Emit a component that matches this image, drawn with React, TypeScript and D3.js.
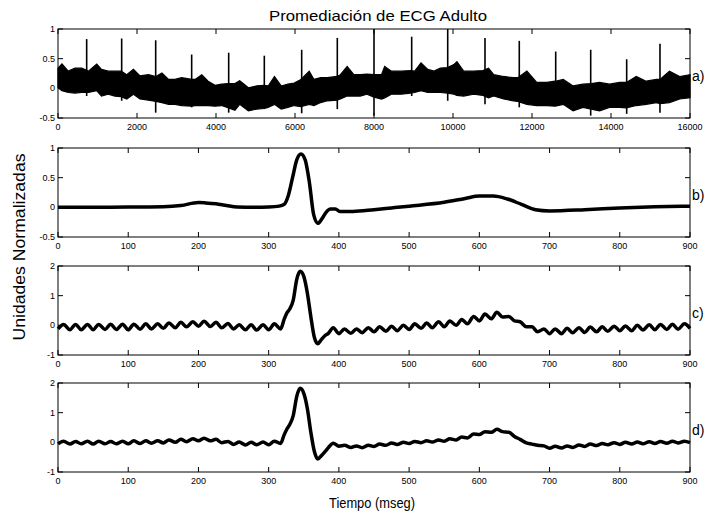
import React from 'react';
import * as d3 from 'd3';

// ---------- Panel a) raw ECG: envelope of the noisy band + R-wave spikes ----------
const aSamples = [
  0, 100, 260, 430, 600, 770, 980, 1100, 1270, 1440,
  1600, 1740, 1910, 2075, 2290, 2480, 2630, 2800, 2960, 3130,
  3390, 3470, 3640, 3800, 3975, 4140, 4320, 4480, 4600, 4820,
  5030, 5220, 5320, 5480, 5650, 5820, 5980, 6150, 6360, 6480,
  6650, 6820, 7060, 7150, 7320, 7490, 7650, 7820, 8000, 8190,
  8270, 8440, 8690, 8930, 9030, 9190, 9360, 9520, 9680, 9860,
  10020, 10100, 10270, 10520, 10760, 10900, 11030, 11280, 11530, 11640,
  11870, 12120, 12370, 12590, 12790, 13040, 13290, 13500, 13710, 13960,
  14220, 14390, 14640, 14890, 15150, 15240, 15480, 15740, 16000,
];
const aUpper = [
  0.34, 0.41, 0.29, 0.34, 0.34, 0.29, 0.41, 0.32, 0.29, 0.29,
  0.29, 0.23, 0.32, 0.21, 0.23, 0.2, 0.26, 0.15, 0.15, 0.18,
  0.15, 0.15, 0.23, 0.12, 0.05, 0.07, 0.08, 0.08, 0.13, 0.01,
  0.04, 0.05, 0.04, 0.2, 0.04, 0.07, 0.09, 0.15, 0.29, 0.15,
  0.18, 0.18, 0.2, 0.23, 0.37, 0.23, 0.23, 0.24, 0.23, 0.23,
  0.37, 0.29, 0.29, 0.3, 0.29, 0.43, 0.32, 0.29, 0.34, 0.35,
  0.4, 0.45, 0.29, 0.29, 0.3, 0.34, 0.23, 0.2, 0.18, 0.18,
  0.29, 0.1, 0.1, 0.12, 0.15, 0.04, 0.07, 0.08, 0.1, 0.07,
  0.1, 0.1, 0.2, 0.12, 0.15, 0.15, 0.29, 0.2, 0.23,
];
const aLower = [
  0.01, -0.04, -0.07, -0.08, -0.07, -0.07, -0.04, -0.13, -0.1, -0.13,
  -0.14, -0.18, -0.1, -0.18, -0.2, -0.22, -0.24, -0.27, -0.27, -0.29,
  -0.3, -0.29, -0.29, -0.29, -0.3, -0.29, -0.33, -0.37, -0.27, -0.38,
  -0.35, -0.34, -0.32, -0.27, -0.35, -0.32, -0.29, -0.31, -0.27, -0.29,
  -0.24, -0.21, -0.2, -0.18, -0.13, -0.13, -0.13, -0.1, -0.15, -0.18,
  -0.16, -0.1, -0.1, -0.08, -0.07, -0.04, -0.07, -0.07, -0.07, -0.08,
  -0.1, -0.12, -0.13, -0.1, -0.12, -0.16, -0.13, -0.18, -0.21, -0.22,
  -0.27, -0.29, -0.29, -0.3, -0.27, -0.38, -0.32, -0.35, -0.38, -0.32,
  -0.32, -0.33, -0.29, -0.27, -0.24, -0.26, -0.24, -0.18, -0.16,
];
const spikeSamples = [726, 1612, 2473, 3384, 4321, 5223, 6169, 7071, 8000, 8954, 9866, 10810, 11678, 12600, 13486, 14397, 15240];
const spikeTop = [0.83, 0.84, 0.81, 0.57, 0.6, 0.55, 0.65, 0.85, 1.0, 0.87, 1.0, 0.85, 0.8, 0.62, 0.65, 0.49, 0.75];
const spikeBottom = [-0.13, -0.21, -0.41, -0.32, -0.41, -0.35, -0.42, -0.35, -0.46, -0.13, -0.21, -0.27, -0.32, -0.29, -0.46, -0.43, -0.41];

// ---------- Panel b) averaged beat ----------
const bTime = [
  0, 50, 100, 150, 175, 200, 210, 225, 240, 255,
  280, 300, 315, 322, 328, 334, 340, 346, 352, 358,
  364, 370, 376, 382, 388, 395, 402, 420, 450, 475,
  500, 550, 580, 600, 620, 640, 660, 680, 700, 750,
  800, 850, 900,
];
const bValue = [
  0, 0, 0.005, 0.01, 0.03, 0.08, 0.075, 0.06, 0.03, 0.005,
  0, 0.005, 0.02, 0.05, 0.2, 0.5, 0.8, 0.9, 0.8, 0.42,
  -0.12, -0.27, -0.19, -0.08, -0.03, -0.03, -0.07, -0.07, -0.04, -0.01,
  0.02, 0.085, 0.15, 0.19, 0.19, 0.14, 0.05, -0.04, -0.06, -0.04,
  -0.01, 0.01, 0.02,
];

// ---------- Panels c) and d) (ripple extrema + QRS) ----------
const cdTime = [
  0, 8, 17, 25, 33, 42, 50, 58, 67, 75, 83, 92, 100,
  108, 117, 125, 133, 142, 150, 158, 167, 175, 183, 192, 200,
  208, 217, 225, 233, 242, 250, 258, 267, 275, 283, 292, 300,
  308, 317, 322, 326, 330, 335, 340, 345, 350, 355, 360, 365, 370, 375, 380, 385,
  392, 400, 408, 417, 425, 433, 442, 450, 458, 467, 475, 483, 492, 500,
  508, 517, 525, 533, 542, 550, 558, 567, 575, 583, 592, 600,
  608, 617, 625, 633, 642, 650, 658, 667, 675, 683, 692, 700,
  708, 717, 725, 733, 742, 750, 758, 767, 775, 783, 792, 800,
  808, 817, 825, 833, 842, 850, 858, 867, 875, 883, 892, 900,
];
const cValue = [
  -0.12, 0.03, -0.15, 0.03, -0.15, 0.03, -0.15, 0.03, -0.14, 0.04, -0.14, 0.04, -0.15,
  0.04, -0.13, 0.05, -0.12, 0.05, -0.1, 0.08, -0.08, 0.1, -0.05, 0.12, -0.03,
  0.14, -0.04, 0.1, -0.08, 0.06, -0.12, 0.02, -0.15, 0.02, -0.16, 0.02, -0.15,
  0.05, -0.12, 0.2, 0.42, 0.55, 0.85, 1.55, 1.82, 1.65, 1.1, 0.3, -0.4, -0.62, -0.48, -0.35, -0.27,
  -0.08, -0.28, -0.12, -0.27, -0.12, -0.25, -0.08, -0.22, -0.05, -0.2, -0.03, -0.18, 0.0, -0.14,
  0.05, -0.1, 0.08, -0.08, 0.12, -0.05, 0.15, 0.0, 0.2, 0.05, 0.3, 0.15,
  0.38, 0.22, 0.44, 0.28, 0.3, 0.15, 0.12, -0.05, -0.05, -0.22, -0.12, -0.28,
  -0.12, -0.28, -0.1, -0.25, -0.08, -0.24, -0.06, -0.22, -0.05, -0.2, -0.03, -0.18,
  -0.02, -0.18, 0.0, -0.16, 0.02, -0.15, 0.03, -0.14, 0.04, -0.13, 0.05, -0.1,
];
const dValue = [
  -0.05, 0.04, -0.06, 0.03, -0.05, 0.04, -0.06, 0.04, -0.05, 0.03, -0.05, 0.04, -0.05,
  0.05, -0.04, 0.05, -0.03, 0.05, -0.02, 0.08, 0.0, 0.1, 0.02, 0.12, 0.05,
  0.14, 0.05, 0.1, -0.01, 0.03, -0.07, 0.01, -0.09, 0.0, -0.08, 0.01, -0.08,
  0.04, -0.04, 0.25, 0.45, 0.6, 0.9, 1.55, 1.82, 1.65, 1.15, 0.35, -0.3, -0.56, -0.45, -0.32, -0.18,
  -0.03, -0.13, -0.1, -0.17, -0.12, -0.18, -0.1, -0.14, -0.06, -0.1, -0.02, -0.07, 0.0, -0.04,
  0.03, -0.01, 0.05, 0.01, 0.08, 0.04, 0.12, 0.08, 0.18, 0.15, 0.28, 0.26,
  0.36, 0.34, 0.44, 0.36, 0.34, 0.2, 0.1, -0.02, -0.06, -0.1, -0.12, -0.2,
  -0.13, -0.19, -0.12, -0.17, -0.09, -0.14, -0.06, -0.11, -0.04, -0.08, -0.01, -0.07,
  0.0, -0.06, 0.01, -0.05, 0.02, -0.04, 0.03, -0.03, 0.04, -0.02, 0.04, -0.01,
];

// ---------- ticks & labels ----------
const sampleTicks = [0, 2000, 4000, 6000, 8000, 10000, 12000, 14000, 16000];
const msTicks = [0, 100, 200, 300, 400, 500, 600, 700, 800, 900];
const abYTicks = [-0.5, 0, 0.5, 1];
const cdYTicks = [-1, 0, 1, 2];
const panelLabels = ['a)', 'b)', 'c)', 'd)'];
const titleText = 'Promediación de ECG Adulto';
const xLabelText = 'Tiempo (mseg)';
const yLabelText = 'Unidades Normalizadas';

const W = 707;
const H = 514;
const LEFT = 58;
const RIGHT = 690;
const PANEL_H = 89;
const PANEL_TOPS = [29, 148, 266, 383];
const FONT = "'Liberation Sans', Arial, Helvetica, sans-serif";
const TICK = 5;

type PanelProps = {
  top: number;
  x: d3.ScaleLinear<number, number>;
  y: d3.ScaleLinear<number, number>;
  xTicks: number[];
  yTicks: number[];
  label: string;
  children?: React.ReactNode;
};

function Panel({ top, x, y, xTicks, yTicks, label, children }: PanelProps) {
  const bottom = top + PANEL_H;
  return (
    <g>
      {children}
      <rect x={LEFT} y={top} width={RIGHT - LEFT} height={PANEL_H} fill="none" stroke="#000" strokeWidth={1} />
      {xTicks.map((t) => (
        <g key={'x' + t}>
          <line x1={x(t)} x2={x(t)} y1={bottom} y2={bottom - TICK} stroke="#000" strokeWidth={1} />
          <line x1={x(t)} x2={x(t)} y1={top} y2={top + TICK} stroke="#000" strokeWidth={1} />
          <text x={x(t)} y={bottom + 12} fontSize={9} textAnchor="middle" fontFamily={FONT} fill="#000">
            {String(t)}
          </text>
        </g>
      ))}
      {yTicks.map((t) => (
        <g key={'y' + t}>
          <line x1={LEFT} x2={LEFT + TICK} y1={y(t)} y2={y(t)} stroke="#000" strokeWidth={1} />
          <line x1={RIGHT} x2={RIGHT - TICK} y1={y(t)} y2={y(t)} stroke="#000" strokeWidth={1} />
          <text x={LEFT - 3} y={y(t)} dy="0.35em" fontSize={9} textAnchor="end" fontFamily={FONT} fill="#000">
            {String(t)}
          </text>
        </g>
      ))}
      <text x={RIGHT + 2} y={top + PANEL_H / 2 + 7} fontSize={14} fontFamily={FONT} fill="#000">
        {label}
      </text>
    </g>
  );
}

export default function App() {
  const xa = d3.scaleLinear().domain([0, 16000]).range([LEFT, RIGHT]);
  const xms = d3.scaleLinear().domain([0, 900]).range([LEFT, RIGHT]);
  const ys = [
    d3.scaleLinear().domain([-0.5, 1]).range([PANEL_TOPS[0] + PANEL_H, PANEL_TOPS[0]]),
    d3.scaleLinear().domain([-0.5, 1]).range([PANEL_TOPS[1] + PANEL_H, PANEL_TOPS[1]]),
    d3.scaleLinear().domain([-1, 2]).range([PANEL_TOPS[2] + PANEL_H, PANEL_TOPS[2]]),
    d3.scaleLinear().domain([-1, 2]).range([PANEL_TOPS[3] + PANEL_H, PANEL_TOPS[3]]),
  ];

  const bandIdx = d3.range(aSamples.length);
  const band = d3
    .area<number>()
    .x((i) => xa(aSamples[i]))
    .y0((i) => ys[0](aLower[i]))
    .y1((i) => ys[0](aUpper[i]))
    .curve(d3.curveLinear)(bandIdx) || '';

  const lineB = d3
    .line<number>()
    .x((i) => xms(bTime[i]))
    .y((i) => ys[1](bValue[i]))
    .curve(d3.curveMonotoneX)(d3.range(bTime.length)) || '';

  const lineC = d3
    .line<number>()
    .x((i) => xms(cdTime[i]))
    .y((i) => ys[2](cValue[i]))
    .curve(d3.curveMonotoneX)(d3.range(cdTime.length)) || '';

  const lineD = d3
    .line<number>()
    .x((i) => xms(cdTime[i]))
    .y((i) => ys[3](dValue[i]))
    .curve(d3.curveMonotoneX)(d3.range(cdTime.length)) || '';

  const midX = (LEFT + RIGHT) / 2;

  return (
    <svg
      width={W}
      height={H}
      viewBox={`0 0 ${W} ${H}`}
      style={{ position: 'absolute', left: 0, top: 0, background: '#fff' }}
    >
      <rect x={0} y={0} width={W} height={H} fill="#fff" />
      <text x={midX + 4} y={21} fontSize={15} textAnchor="middle" fontFamily={FONT} fill="#000"
        textLength={218} lengthAdjust="spacingAndGlyphs">
        {titleText}
      </text>

      <Panel top={PANEL_TOPS[0]} x={xa} y={ys[0]} xTicks={sampleTicks} yTicks={abYTicks} label={panelLabels[0]}>
        <path d={band} fill="#000" stroke="#000" strokeWidth={1.2} strokeLinejoin="miter" />
        {spikeSamples.map((s, i) => (
          <line key={s} x1={xa(s)} x2={xa(s)} y1={ys[0](spikeTop[i])} y2={ys[0](spikeBottom[i])}
            stroke="#000" strokeWidth={1.6} />
        ))}
      </Panel>

      <Panel top={PANEL_TOPS[1]} x={xms} y={ys[1]} xTicks={msTicks} yTicks={abYTicks} label={panelLabels[1]}>
        <path d={lineB} fill="none" stroke="#000" strokeWidth={3.5} strokeLinejoin="round" />
      </Panel>

      <Panel top={PANEL_TOPS[2]} x={xms} y={ys[2]} xTicks={msTicks} yTicks={cdYTicks} label={panelLabels[2]}>
        <path d={lineC} fill="none" stroke="#000" strokeWidth={3.5} strokeLinejoin="round" />
      </Panel>

      <Panel top={PANEL_TOPS[3]} x={xms} y={ys[3]} xTicks={msTicks} yTicks={cdYTicks} label={panelLabels[3]}>
        <path d={lineD} fill="none" stroke="#000" strokeWidth={3.5} strokeLinejoin="round" />
      </Panel>

      <text x={midX - 2} y={508} fontSize={15} textAnchor="middle" fontFamily={FONT} fill="#000"
        textLength={86} lengthAdjust="spacingAndGlyphs">
        {xLabelText}
      </text>
      <text transform={`translate(25, 247) rotate(-90)`} fontSize={17} textAnchor="middle" fontFamily={FONT}
        fill="#000" textLength={187} lengthAdjust="spacingAndGlyphs">
        {yLabelText}
      </text>
    </svg>
  );
}
